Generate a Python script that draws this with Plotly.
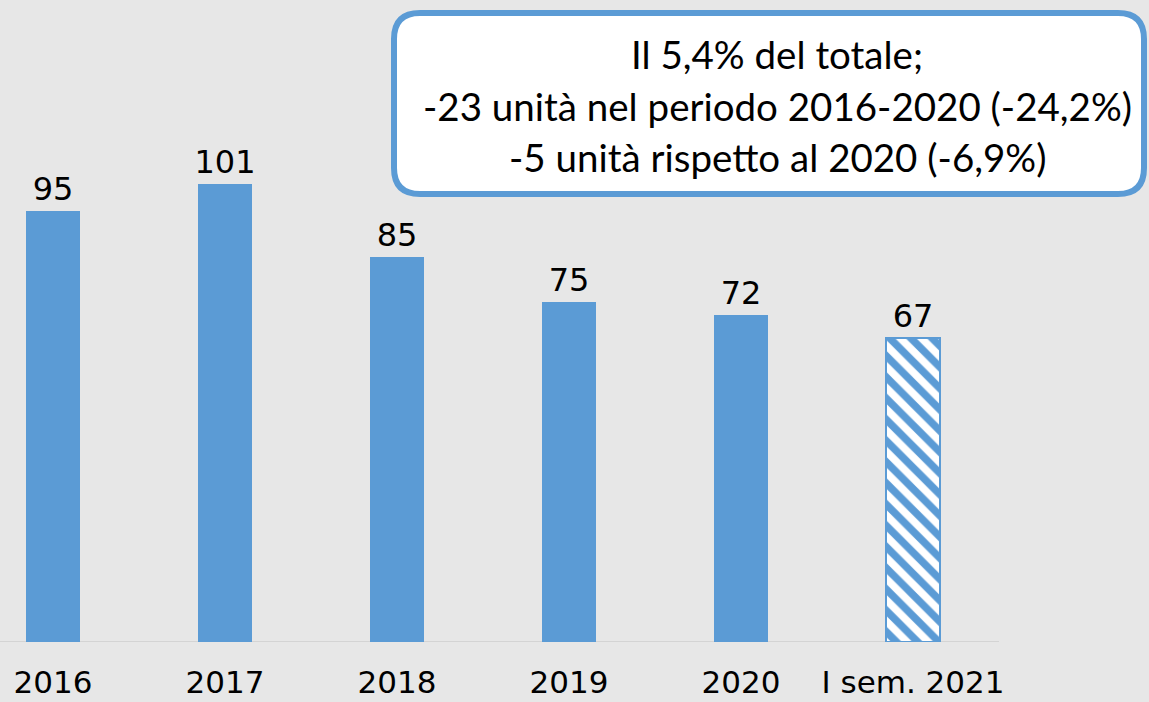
import plotly.graph_objects as go

categories = ["2016", "2017", "2018", "2019", "2020", "I sem. 2021"]
values = [95, 101, 85, 75, 72, 67]
box_lines = [
    "Il 5,4% del totale;",
    "-23 unità nel periodo 2016-2020 (-24,2%)",
    "-5 unità rispetto al 2020 (-6,9%)",
]

BLUE = "#5B9BD5"
BG = "#E7E7E7"
W, H = 1149, 702
B = 60
PH = H - B

xs = list(range(len(categories)))

fig = go.Figure()
fig.add_trace(go.Bar(
    x=xs[:-1], y=values[:-1], width=0.314,
    marker=dict(color=BLUE, line=dict(width=0)),
    text=[str(v) for v in values[:-1]], textposition="outside",
    textfont=dict(family="DejaVu Sans", size=32, color="#000000"),
    constraintext="none", cliponaxis=False, hoverinfo="skip",
))
fig.add_trace(go.Bar(
    x=xs[-1:], y=values[-1:], width=0.314,
    marker=dict(color="white", line=dict(width=2, color=BLUE),
                pattern=dict(shape="\\", fgcolor=BLUE, bgcolor="white",
                             fgopacity=1, size=15, solidity=0.5)),
    text=[str(values[-1])], textposition="outside",
    textfont=dict(family="DejaVu Sans", size=32, color="#000000"),
    constraintext="none", cliponaxis=False, hoverinfo="skip",
))

x0 = -53 / 172
x1 = (W - 53) / 172
ymax = PH / 4.535

fig.update_layout(
    width=W, height=H,
    margin=dict(l=0, r=0, t=0, b=B, autoexpand=False),
    paper_bgcolor=BG, plot_bgcolor=BG,
    showlegend=False, bargap=0,
    xaxis=dict(range=[x0, x1], tickmode="array", tickvals=xs, ticktext=categories,
               showgrid=False, zeroline=False, showline=False, automargin=False,
               tickfont=dict(family="DejaVu Sans", size=31, color="#000000"),
               ticks="", ticklabelstandoff=19),
    yaxis=dict(range=[0, ymax], visible=False, showgrid=False, zeroline=False,
               automargin=False),
)

fig.add_shape(type="line", xref="x", yref="y", x0=-0.5, x1=5.5, y0=0, y1=0,
              line=dict(color="#D4D4D4", width=2), layer="below")

def px(x):
    return x / W

def py(y):
    return (PH - y) / PH

L, R, T, Bt, r = 394, 1144, 13, 194, 26
path = (
    f"M {px(L + r)},{py(T)} L {px(R - r)},{py(T)} "
    f"Q {px(R)},{py(T)} {px(R)},{py(T + r)} "
    f"L {px(R)},{py(Bt - r)} Q {px(R)},{py(Bt)} {px(R - r)},{py(Bt)} "
    f"L {px(L + r)},{py(Bt)} Q {px(L)},{py(Bt)} {px(L)},{py(Bt - r)} "
    f"L {px(L)},{py(T + r)} Q {px(L)},{py(T)} {px(L + r)},{py(T)} Z"
)
fig.add_shape(type="path", xref="paper", yref="paper", path=path,
              fillcolor="white", line=dict(color=BLUE, width=6), layer="above")

for text, yc in zip(box_lines, [54, 106, 157]):
    fig.add_annotation(xref="paper", yref="paper", x=px(777), y=py(yc),
                       text=text, showarrow=False, xanchor="center", yanchor="middle",
                       font=dict(family="Lato", size=38.5, color="#000000"))

fig.write_html("out.html", config={"displayModeBar": False},
               post_script="document.body.style.margin='0';document.body.style.overflow='hidden';")
